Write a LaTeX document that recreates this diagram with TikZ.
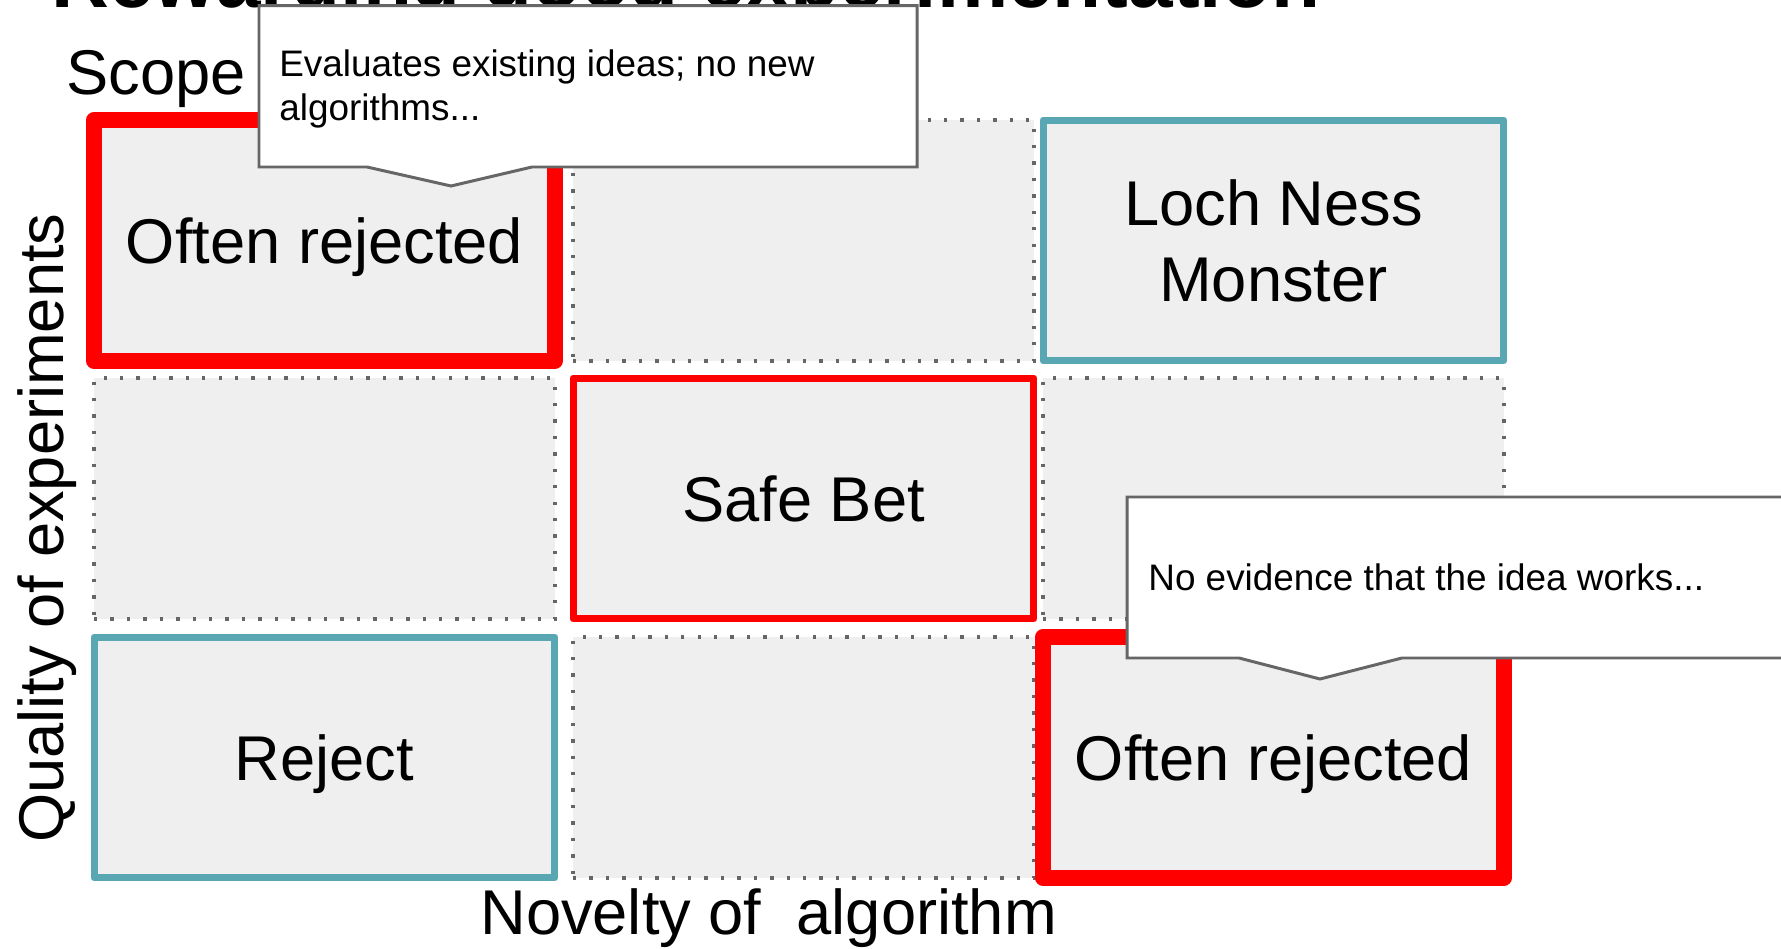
\documentclass[tikz,border=0pt]{standalone}
\usepackage{fontspec}
\setmainfont{Liberation Sans}
\usepackage{tikz}

\definecolor{cellgray}{HTML}{EFEFEF}
\definecolor{boxred}{HTML}{FF0000}
\definecolor{boxteal}{HTML}{5AA7B4}
\definecolor{linegray}{HTML}{666666}

\begin{document}
\begin{tikzpicture}[x=0.02cm, y=-0.02cm,
    cell/.style={minimum width=9.22cm, minimum height=4.82cm, inner sep=0pt, fill=cellgray,
      text depth=0pt, align=center, font=\fontsize{36}{43}\selectfont},
    emptycell/.style={cell, draw=linegray, line width=1.9pt, dash pattern=on 1.9pt off 7.45pt},
    redthick/.style={cell, draw=boxred, line width=9.07pt, line join=round},
    redthin/.style={cell, draw=boxred, line width=3.97pt, line join=round},
    tealbox/.style={cell, draw=boxteal, line width=3.97pt, line join=round},
    axislabel/.style={inner sep=0pt, font=\fontsize{36}{43}\selectfont},
    calloutbox/.style={fill=white, draw=linegray, line width=1.7pt},
    callouttext/.style={inner sep=0pt, anchor=base west, align=left, font=\fontsize{21}{25.5}\selectfont}]
        % Page size
        \useasboundingbox (0,0) rectangle (1781,949);
        \clip (0,0) rectangle (1781,949);

        % Column and row centres
        \def\colA{324.5}
        \def\colB{803.5}
        \def\colC{1273.5}
        \def\rowA{240.5}
        \def\rowB{498.5}
        \def\rowC{757.5}

        % Title (cut off at the top)
        \node[inner sep=0pt, anchor=base west, font=\fontsize{45.6}{50}\selectfont\bfseries] (title) at (51,8) {Rewarding good experimentation};

        % Empty cells of the grid
        \foreach \cx/\cy [count=\i] in {\colB/\rowA, \colA/\rowB, \colC/\rowB, \colB/\rowC} {
          \node[emptycell] (empty\i) at (\cx,\cy) {};
        }

        % Labelled cells
        \node[redthick] (oftenTop) at (\colA,\rowA) {Often rejected};
        \node[tealbox] (lochNess) at (\colC,\rowA) {Loch Ness\\Monster};
        \node[redthin] (safeBet) at (\colB,\rowB) {Safe Bet};
        \node[tealbox] (reject) at (\colA,\rowC) {Reject};
        \node[redthick] (oftenBottom) at (\colC,\rowC) {Often rejected};

        % Axis labels
        \node[axislabel, anchor=base west] (scope) at (66,95) {Scope};
        \node[axislabel, anchor=base west] (novelty) at (480,934) {Novelty of~ algorithm};
        \node[axislabel, anchor=base, rotate=90] (quality) at (63,528) {Quality of experiments};

        % Callouts (base of a two-line note is its last line)
        \draw[calloutbox] (259,5.7) -- (917,5.7) -- (917,167) -- (532,167) -- (451,186) -- (367,167) -- (259,167) -- cycle;
        \node[callouttext] (noveltyNote) at (279,121) {Evaluates existing ideas; no new\\algorithms...};
        \draw[calloutbox] (1127,497) -- (1800,497) -- (1800,658) -- (1402,658) -- (1320,679) -- (1239,658) -- (1127,658) -- cycle;
        \node[callouttext] (evidenceNote) at (1148,590) {No evidence that the idea works...};
\end{tikzpicture}
\end{document}
